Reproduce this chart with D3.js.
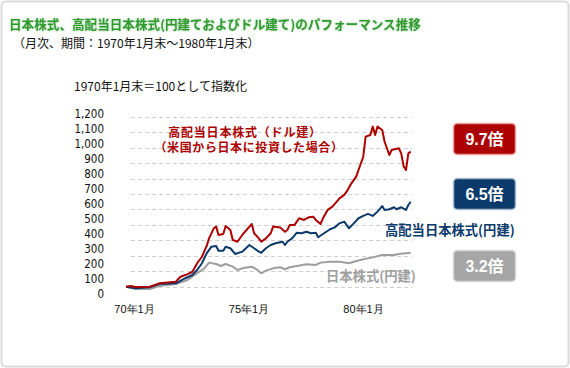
<!DOCTYPE html>
<html>
<head>
<meta charset="utf-8">
<script src="https://cdn.jsdelivr.net/npm/d3@7"></script>
<style>
  body { margin: 0; background: #fff; font-family: "Noto Sans CJK JP", sans-serif; }
  #chart svg { display: block; }
</style>
</head>
<body>
<div id="chart"></div>
<script>
// month index 0 = 1970年1月末, 120 = 1980年1月末
const redMonths  = [0,2,4,10,14,21,23,26,28,30,32,34,35,37,38,39,41,42,44,45,47,49,53,54,56,57,59,61,62,65,67,68,69,71,73,75,77,79,80,82,83,85,87,90,92,93,95,97,98,100,101,103,104,105,106,108,109,111,112,115,116,117,118,119,120];
const redValues  = [100,105,98,100,122,133,165,182,197,252,294,364,413,478,489,435,441,493,467,402,391,435,506,446,413,391,413,446,489,484,456,467,499,499,543,532,549,553,532,506,543,597,618,672,694,715,769,812,855,941,1071,1082,1136,1082,1136,1114,1038,952,985,996,963,880,855,963,974];

const blueMonths = [0,4,10,14,21,25,28,30,32,34,36,38,39,41,42,44,46,49,52,54,56,57,59,61,63,66,67,68,70,72,74,76,78,80,81,83,86,88,90,92,94,96,98,100,102,104,106,108,109,111,113,114,116,118,119,120];
const blueValues = [100,90,96,118,122,155,176,208,252,316,359,364,333,333,359,349,312,327,370,349,327,320,349,370,381,391,370,391,413,450,446,456,446,450,420,441,472,484,510,521,478,510,543,558,571,558,586,622,597,601,614,601,614,597,629,650];

const greyMonths = [0,4,10,14,21,26,30,33,35,38,40,42,45,47,49,53,55,57,59,62,65,67,69,72,76,80,82,86,90,94,96,100,104,108,113,115,120];
const greyValues = [100,85,85,105,118,144,187,219,256,247,234,247,230,208,219,230,213,187,204,219,226,213,226,234,245,241,256,262,262,252,262,278,290,305,305,312,320];

const yTicks = [0,100,200,300,400,500,600,700,800,900,1000,1100,1200];
const xTickYears = [70, 75, 80];
const badges = ['9.7倍', '6.5倍', '3.2倍'];

const width = 570;
const height = 368;

const svg = d3.select('#chart').append('svg')
  .attr('width', width).attr('height', height);

// frame
svg.append('rect')
  .attr('x', 1.5).attr('y', 1.5)
  .attr('width', width - 3).attr('height', height - 3)
  .attr('rx', 4)
  .attr('fill', '#fff').attr('stroke', '#dcdcdc').attr('stroke-width', 2);

const defs = svg.append('defs');
defs.append('filter').attr('id', 'glow')
  .append('feDropShadow')
  .attr('dx', 0).attr('dy', 0).attr('stdDeviation', 1.2)
  .attr('flood-color', '#7cc47c').attr('flood-opacity', 0.8);

svg.append('text')
  .attr('x', 9).attr('y', 29)
  .attr('font-size', 12.6).attr('font-weight', 'bold')
  .attr('fill', '#2f9a2f')
  .attr('filter', 'url(#glow)')
  .text('日本株式、高配当日本株式(円建ておよびドル建て)のパフォーマンス推移');

svg.append('text')
  .attr('x', 13).attr('y', 48)
  .attr('font-size', 12).attr('fill', '#111')
  .text('（月次、期間：1970年1月末～1980年1月末）');

svg.append('text')
  .attr('x', 74).attr('y', 91)
  .attr('font-size', 12).attr('fill', '#111')
  .text('1970年1月末＝100として指数化');

// scales
const x = d3.scaleLinear().domain([0, 120]).range([126, 410.7]);
const y = d3.scaleLinear().domain([0, 1200]).range([302.2, 116.7]);
const yLabel = d3.scaleLinear().domain([0, 1200]).range([293.5, 113.5]);
const xLabel = d3.scaleLinear().domain([70, 80]).range([134, 363]);

// gridlines
svg.append('g')
  .selectAll('line')
  .data(yTicks.filter(d => d > 0))
  .join('line')
  .attr('x1', 131).attr('x2', 412)
  .attr('y1', d => Math.round(y(d)) + 0.5)
  .attr('y2', d => Math.round(y(d)) + 0.5)
  .attr('stroke', '#cfcfcf')
  .attr('stroke-dasharray', '4,3');

// y labels
const yAxis = d3.axisLeft(yLabel)
  .tickValues(yTicks)
  .tickSize(0)
  .tickFormat(d3.format(','));
svg.append('g')
  .attr('transform', 'translate(107,0)')
  .call(yAxis)
  .call(g => g.select('.domain').remove())
  .call(g => g.selectAll('text')
    .attr('font-size', 11.5)
    .attr('font-family', '"DejaVu Sans Condensed", sans-serif')
    .attr('fill', '#111'));

// x labels
const xAxis = d3.axisBottom(xLabel)
  .tickValues(xTickYears)
  .tickSize(0)
  .tickFormat(d => d + '年1月');
svg.append('g')
  .attr('transform', 'translate(0,302)')
  .call(xAxis)
  .call(g => g.select('.domain').remove())
  .call(g => g.selectAll('text')
    .attr('font-size', 11)
    .attr('fill', '#111'));

// lines
const series = [
  { months: greyMonths, values: greyValues, color: '#9e9e9e' },
  { months: blueMonths, values: blueValues, color: '#0c3a6b' },
  { months: redMonths, values: redValues, color: '#ad0000' },
];

const line = d3.line()
  .x(d => x(d[0]))
  .y(d => y(d[1]));

svg.append('g')
  .selectAll('path')
  .data(series)
  .join('path')
  .attr('d', s => line(d3.zip(s.months, s.values)))
  .attr('fill', 'none')
  .attr('stroke', s => s.color)
  .attr('stroke-width', 2)
  .attr('stroke-linejoin', 'round');

// annotations
svg.append('text')
  .attr('x', 245).attr('y', 136.5)
  .attr('text-anchor', 'middle')
  .attr('font-size', 12).attr('font-weight', 'bold')
  .attr('letter-spacing', 0.8)
  .attr('fill', '#ad0000')
  .text('高配当日本株式（ドル建）');
svg.append('text')
  .attr('x', 249).attr('y', 152)
  .attr('text-anchor', 'middle')
  .attr('font-size', 12).attr('font-weight', 'bold')
  .attr('letter-spacing', 0.6)
  .attr('fill', '#ad0000')
  .text('（米国から日本に投資した場合）');

svg.append('text')
  .attr('x', 385).attr('y', 235)
  .attr('font-size', 13.3).attr('font-weight', 'bold')
  .attr('fill', '#0c3a6b')
  .text('高配当日本株式(円建)');

svg.append('text')
  .attr('x', 326).attr('y', 281)
  .attr('font-size', 13.3).attr('font-weight', 'bold')
  .attr('fill', '#a0a0a0')
  .text('日本株式(円建)');

// badges
const badgeData = [
  { label: badges[0], y: 123, fill: '#ad0000', stroke: '#e8a0a0' },
  { label: badges[1], y: 178, fill: '#0c3a6b', stroke: '#a9bcd2' },
  { label: badges[2], y: 250, fill: '#a6a6a6', stroke: '#d6d6d6' },
];
const badge = svg.append('g')
  .selectAll('g')
  .data(badgeData)
  .join('g')
  .attr('transform', d => `translate(453.5,${d.y + 0.5})`);
badge.append('rect')
  .attr('width', 62).attr('height', 31).attr('rx', 4)
  .attr('fill', d => d.fill)
  .attr('stroke', d => d.stroke)
  .attr('stroke-width', 1.5);
badge.append('text')
  .attr('x', 31).attr('y', 21.5)
  .attr('text-anchor', 'middle')
  .attr('font-size', 16).attr('font-weight', 'bold')
  .attr('font-family', '"Liberation Sans", "Noto Sans CJK JP", sans-serif')
  .attr('fill', '#fff')
  .text(d => d.label);
</script>
</body>
</html>
